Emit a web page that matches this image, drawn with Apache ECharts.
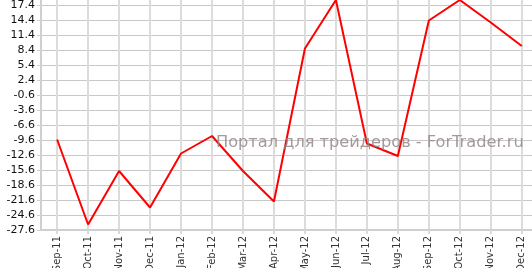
<!DOCTYPE html>
<html>
<head>
<meta charset="utf-8">
<script src="https://cdn.jsdelivr.net/npm/echarts@6/dist/echarts.min.js"></script>
<style>
html,body{margin:0;padding:0;background:#fff;}
#chart{width:532px;height:268px;}
</style>
</head>
<body>
<div id="chart"></div>
<script>
var categories = ['Sep-11','Oct-11','Nov-11','Dec-11','Jan-12','Feb-12','Mar-12','Apr-12','May-12','Jun-12','Jul-12','Aug-12','Sep-12','Oct-12','Nov-12','Dec-12'];
var values = [-9.5, -26.5, -15.8, -23.1, -12.3, -8.8, -15.8, -21.9, 8.7, 18.4, -10.3, -12.8, 14.3, 18.4, 13.9, 9.2];
var yTicks = [-27.6, -24.6, -21.6, -18.6, -15.6, -12.6, -9.6, -6.6, -3.6, -0.6, 2.4, 5.4, 8.4, 11.4, 14.4, 17.4];
var xTicks = [0,1,2,3,4,5,6,7,8,9,10,11,12,13,14,15];
var watermark = 'Портал для трейдеров - ForTrader.ru';

var points = values.map(function (v, i) { return [i, v]; });

var chart = echarts.init(document.getElementById('chart'), null, {renderer: 'canvas'});
chart.setOption({
  animation: false,
  backgroundColor: '#ffffff',
  grid: {left: 41, right: 0, top: 0, bottom: 38, containLabel: false, outerBoundsMode: 'none'},
  xAxis: {
    type: 'value',
    min: -0.52,
    max: 15.33,
    axisLine: {show: true, onZero: false, lineStyle: {color: '#cfcfcf', width: 2}},
    axisTick: {show: true, customValues: xTicks, length: 4, lineStyle: {color: '#dadada', width: 2}},
    axisLabel: {
      customValues: xTicks,
      rotate: 90,
      margin: 6,
      fontSize: 10,
      fontFamily: 'DejaVu Sans',
      color: '#333',
      formatter: function (v) { return categories[Math.round(v)]; }
    },
    splitLine: {show: true, lineStyle: {color: '#dcdcdc', width: 2}}
  },
  yAxis: {
    type: 'value',
    min: -27.6,
    max: 18.4,
    axisLine: {show: true, onZero: false, lineStyle: {color: '#cfcfcf', width: 2}},
    axisTick: {show: true, customValues: yTicks, length: 4, lineStyle: {color: '#cfcfcf', width: 1}},
    axisLabel: {
      customValues: yTicks,
      margin: 6,
      fontSize: 11,
      fontFamily: 'DejaVu Sans',
      color: '#111',
      formatter: function (v) { return v.toFixed(1); }
    },
    splitLine: {show: true, lineStyle: {color: '#c8c8c8', width: 1}}
  },
  graphic: [{
    type: 'text',
    left: 216,
    top: 135,
    z: 10,
    style: {
      text: watermark,
      font: '16.2px "DejaVu Sans"',
      fill: 'rgba(150,135,135,0.85)'
    }
  }],
  series: [{
    type: 'line',
    data: points,
    symbol: 'none',
    lineStyle: {color: '#ff0000', width: 2},
    clip: true
  }]
});
</script>
</body>
</html>
